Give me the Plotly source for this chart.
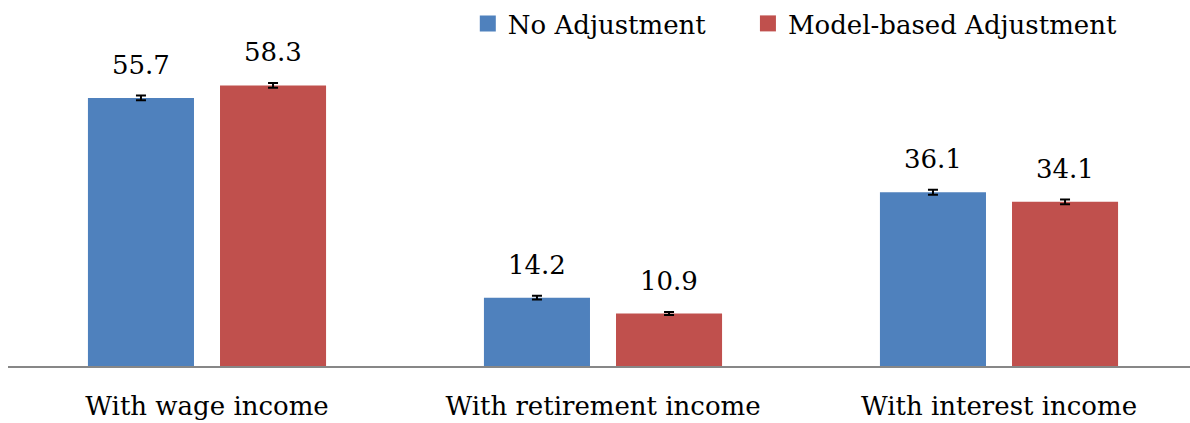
import plotly.graph_objects as go

categories = ["With wage income", "With retirement income", "With interest income"]
no_adj = [55.7, 14.2, 36.1]
model_adj = [58.3, 10.9, 34.1]
no_adj_err = [0.5, 0.4, 0.5]
model_adj_err = [0.5, 0.3, 0.5]

series = [
    ("No Adjustment", no_adj, no_adj_err, "#4F81BD", "legend", 0.389),
    ("Model-based Adjustment", model_adj, model_adj_err, "#C0504D", "legend2", 0.626),
]

xpos = list(range(len(categories)))
FONT = "DejaVu Serif"
FS = 26
BARGAP = 0.333
BARGROUPGAP = 0.197

fig = go.Figure()
n = len(series)
slot = (1 - BARGAP) / n
legends = {}
for k, (name, vals, errs, col, lg, lx) in enumerate(series):
    fig.add_trace(go.Bar(
        x=xpos, y=vals, name=name, showlegend=False,
        marker=dict(color=col, line=dict(width=0)),
        error_y=dict(type="data", array=errs, color="black", thickness=2, width=5),
    ))
    # legend proxy
    fig.add_trace(go.Scatter(
        x=[None], y=[None], mode="markers", name=name, legend=lg,
        marker=dict(symbol="square", size=17, color=col, line=dict(width=0)),
    ))
    legends[lg] = dict(orientation="h", x=lx, y=0.95, xanchor="left", yanchor="middle",
                       font=dict(family=FONT, size=FS, color="black"),
                       itemwidth=30, bgcolor="rgba(0,0,0,0)")
    off = -(1 - BARGAP) / 2 + slot * (k + 0.5)
    for xi, v in zip(xpos, vals):
        fig.add_annotation(
            x=xi + off, y=v, xref="x", yref="y", text=f"{v:.1f}",
            showarrow=False, yanchor="bottom", yshift=16,
            font=dict(family=FONT, size=FS, color="black"),
        )

fig.update_layout(
    width=1190, height=423,
    margin=dict(l=8, r=0, t=0, b=57),
    paper_bgcolor="white", plot_bgcolor="white",
    barmode="group", bargap=BARGAP, bargroupgap=BARGROUPGAP,
    font=dict(family=FONT, size=FS, color="black"),
    showlegend=True,
    **legends,
)
fig.update_xaxes(
    range=[-(207 - 8) / 396, (1190 - 207) / 396], tickvals=xpos, ticktext=categories,
    showline=True, linecolor="#878787", linewidth=2, ticks="",
    showgrid=False, zeroline=False, ticklabelstandoff=16, automargin=False,
    tickfont=dict(family=FONT, size=FS, color="black"),
)
fig.update_yaxes(
    range=[0, 366 / 4.88], visible=False, showgrid=False, zeroline=False, automargin=False,
)

fig.write_html("out.html", config={"displayModeBar": False},
               post_script="document.body.style.margin='0';")
